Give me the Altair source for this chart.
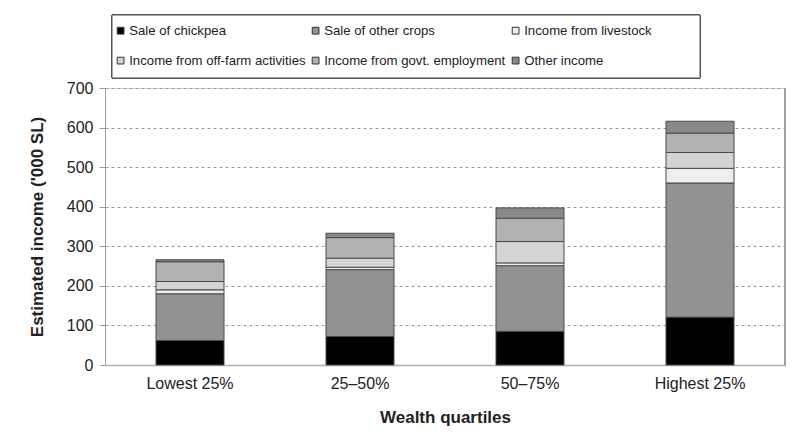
import altair as alt
import pandas as pd

quartiles = ["Lowest 25%", "25\u201350%", "50\u201375%", "Highest 25%"]
sources = [
    "Sale of chickpea",
    "Sale of other crops",
    "Income from livestock",
    "Income from off-farm activities",
    "Income from govt. employment",
    "Other income",
]
chickpea = [62, 72, 85, 121]
other_crops = [118, 169, 166, 339]
livestock = [10, 6, 7, 37]
off_farm = [21, 23, 54, 40]
govt = [50, 52, 59, 49]
other_income = [5, 11, 26, 30]
colors = ["#000000", "#929292", "#eeeeee", "#d4d4d4", "#b2b2b2", "#8a8a8a"]

series = [chickpea, other_crops, livestock, off_farm, govt, other_income]
rows = []
for si, (name, vals) in enumerate(zip(sources, series)):
    for q, v in zip(quartiles, vals):
        rows.append({"quartile": q, "source": name, "value": v, "order": si})
df = pd.DataFrame(rows)

FONT = "Liberation Sans"

legend_box = alt.Chart(df).mark_rect(
    fill="white", stroke="#555555", strokeWidth=1
).encode(
    x=alt.value(7), x2=alt.value(595), y=alt.value(-73), y2=alt.value(-10)
)

bars = alt.Chart(df).mark_bar(size=68, stroke="#4a4a4a", strokeWidth=1).encode(
    x=alt.X(
        "quartile:N",
        sort=quartiles,
        scale=alt.Scale(paddingInner=0, paddingOuter=0),
        axis=alt.Axis(
            title="Wealth quartiles",
            labelAngle=0,
            ticks=False,
            domainColor="#b0b0b0",
            domainWidth=1.5,
            labelFont=FONT,
            labelFontSize=16,
            labelColor="#222222",
            labelPadding=10,
            titleFont=FONT,
            titleFontSize=17,
            titleFontWeight="bold",
            titleColor="#222222",
            titlePadding=18,
        ),
    ),
    y=alt.Y(
        "value:Q",
        stack="zero",
        scale=alt.Scale(domain=[0, 700]),
        axis=alt.Axis(
            title="Estimated income ('000 SL)",
            values=[0, 100, 200, 300, 400, 500, 600, 700],
            tickColor="#a0a0a0",
            tickSize=6,
            domainColor="#a0a0a0",
            gridColor="#9a9a9a",
            gridDash=[3, 3],
            gridWidth=1,
            labelFont=FONT,
            labelFontSize=16,
            labelColor="#222222",
            labelPadding=6,
            titleFont=FONT,
            titleFontSize=17,
            titleFontWeight="bold",
            titleColor="#222222",
            titlePadding=20,
        ),
    ),
    color=alt.Color(
        "source:N",
        scale=alt.Scale(domain=sources, range=colors),
        legend=alt.Legend(
            title=None,
            orient="none",
            legendX=9,
            legendY=-64,
            columns=3,
            direction="horizontal",
            symbolType="square",
            symbolSize=46,
            symbolStrokeColor="#333333",
            symbolStrokeWidth=1,
            labelFont=FONT,
            labelFontSize=13.2,
            labelColor="#222222",
            labelOffset=2,
            columnPadding=3,
            rowPadding=16,
            padding=0,
            labelLimit=300,
        ),
    ),
    order=alt.Order("order:Q", sort="ascending"),
)

right_edge = alt.Chart(df).mark_rule(color="#a0a0a0", strokeWidth=1.5).encode(
    x=alt.value(680), y=alt.value(0), y2=alt.value(277)
)

chart = alt.layer(legend_box, bars, right_edge).properties(
    width=680,
    height=277,
    autosize=alt.AutoSizeParams(type="none"),
    padding={"left": 97, "top": 80, "right": 3, "bottom": 70},
).configure_view(stroke=None).configure(background="white")

chart.save("out.html", embed_options={"renderer": "svg", "actions": False})
